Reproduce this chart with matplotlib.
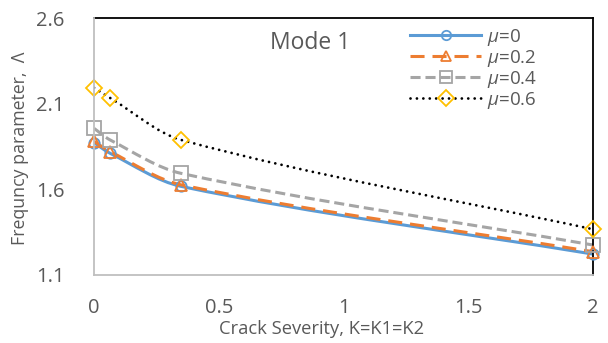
import matplotlib
matplotlib.use("Agg")
import matplotlib.pyplot as plt
from matplotlib.path import Path
from matplotlib.patches import PathPatch
from matplotlib.lines import Line2D
import numpy as np

plt.rcParams['font.family'] = ['Open Sans', 'DejaVu Sans']
plt.rcParams['mathtext.fontset'] = 'custom'
plt.rcParams['mathtext.it'] = 'Open Sans:italic'
plt.rcParams['mathtext.rm'] = 'Open Sans'

# Crack severity values
severity = [0.0, 0.065, 0.35, 2.0]

# Frequency parameter for each friction coefficient
lam_mu0 = [1.872, 1.810, 1.617, 1.222]
lam_mu02 = [1.880, 1.820, 1.626, 1.236]
lam_mu04 = [1.956, 1.888, 1.693, 1.275]
lam_mu06 = [2.193, 2.133, 1.888, 1.367]

labels = [r"$\mu$=0", r"$\mu$=0.2", r"$\mu$=0.4", r"$\mu$=0.6"]

x_ticks = [0, 0.5, 1, 1.5, 2]
x_ticklabels = ["0", "0.5", "1", "1.5", "2"]
y_ticks = [1.1, 1.6, 2.1, 2.6]
y_ticklabels = ["1.1", "1.6", "2.1", "2.6"]

TEXT = "#595959"

styles = [
    dict(color="#5B9BD5", ls="-", marker="o", ms=7.5, mc="#5B9BD5"),
    dict(color="#ED7D31", ls=(0, (4.6, 2.6)), marker="^", ms=8.0, mc="#ED7D31"),
    dict(color="#A5A5A5", ls=(0, (3.3, 1.6)), marker="s", ms=9.5, mc="#A5A5A5"),
    dict(color="black", ls=(0, (0.01, 2.3)), marker="D", ms=8.5, mc="#FFC000"),
]
line_w = [2.2, 2.2, 2.2, 2.0]


def smooth_path(xs, ys):
    """Cubic Bezier path through the points, with Hermite tangents dy/dx."""
    x = np.asarray(xs, float)
    y = np.asarray(ys, float)
    n = len(x)
    m = np.empty(n)
    m[0] = (y[1] - y[0]) / (x[1] - x[0])
    m[-1] = (y[-1] - y[-2]) / (x[-1] - x[-2])
    for i in range(1, n - 1):
        m[i] = (y[i + 1] - y[i - 1]) / (x[i + 1] - x[i - 1])
    verts = [(x[0], y[0])]
    codes = [Path.MOVETO]
    for i in range(n - 1):
        h = (x[i + 1] - x[i]) / 3.0
        verts += [(x[i] + h, y[i] + h * m[i]),
                  (x[i + 1] - h, y[i + 1] - h * m[i + 1]),
                  (x[i + 1], y[i + 1])]
        codes += [Path.CURVE4] * 3
    return Path(verts, codes)


fig = plt.figure(figsize=(6.08, 3.43), dpi=100)
ax = fig.add_axes([94 / 608, 1 - 275 / 343, (593 - 94) / 608, (275 - 18) / 343])

series = [lam_mu0, lam_mu02, lam_mu04, lam_mu06]
handles = []
for ys, st, lw, lab in zip(series, styles, line_w, labels):
    cap = "round" if st["color"] == "black" else "butt"
    patch = PathPatch(smooth_path(severity, ys), fill=False, edgecolor=st["color"],
                      linewidth=lw, linestyle=st["ls"], zorder=2)
    patch.set_capstyle(cap)
    ax.add_patch(patch)
    ax.plot(severity, ys, linestyle="none", marker=st["marker"], markersize=st["ms"],
            markerfacecolor="none", markeredgecolor=st["mc"], markeredgewidth=1.3,
            zorder=3, clip_on=False)
    h = Line2D([], [], color=st["color"], linewidth=lw, linestyle=st["ls"],
               marker=st["marker"], markersize=st["ms"] * 0.9, markerfacecolor="none",
               markeredgecolor=st["mc"], markeredgewidth=1.3, dash_capstyle=cap)
    handles.append(h)

ax.set_xlim(0, 2)
ax.set_ylim(1.1, 2.6)
ax.set_xticks(x_ticks)
ax.set_xticklabels(x_ticklabels)
ax.set_yticks(y_ticks)
ax.set_yticklabels(y_ticklabels)
ax.tick_params(length=0, labelsize=14.5, labelcolor=TEXT)
ax.tick_params(axis="x", pad=16.5)
ax.tick_params(axis="y", pad=21)

for side in ("top", "right"):
    ax.spines[side].set_color("black")
    ax.spines[side].set_linewidth(1.3)
for side in ("left", "bottom"):
    ax.spines[side].set_color("#BFBFBF")
    ax.spines[side].set_linewidth(1.3)
    ax.spines[side].set_zorder(4)

fig.text(322 / 608, 1 - 329 / 343, "Crack Severity, K=K1=K2", ha="center", va="center",
         fontsize=13.2, color=TEXT)
fig.text(20 / 608, 1 - 148 / 343, "Frequncy parameter,  \u039b", ha="center", va="center",
         rotation=90, fontsize=12.8, color=TEXT)
fig.text(310 / 608, 1 - 43 / 343, "Mode 1", ha="center", va="center",
         fontsize=16.5, color=TEXT)

leg = ax.legend(handles, labels, loc="upper left",
                bbox_to_anchor=(410 / 608, 1 - 27 / 343),
                bbox_transform=fig.transFigure, frameon=False, fontsize=13.5,
                handlelength=3.8, handletextpad=0.3, labelspacing=0.0, borderaxespad=0,
                borderpad=0, numpoints=1)
for t in leg.get_texts():
    t.set_color(TEXT)

fig.savefig("out.png", dpi=100)
